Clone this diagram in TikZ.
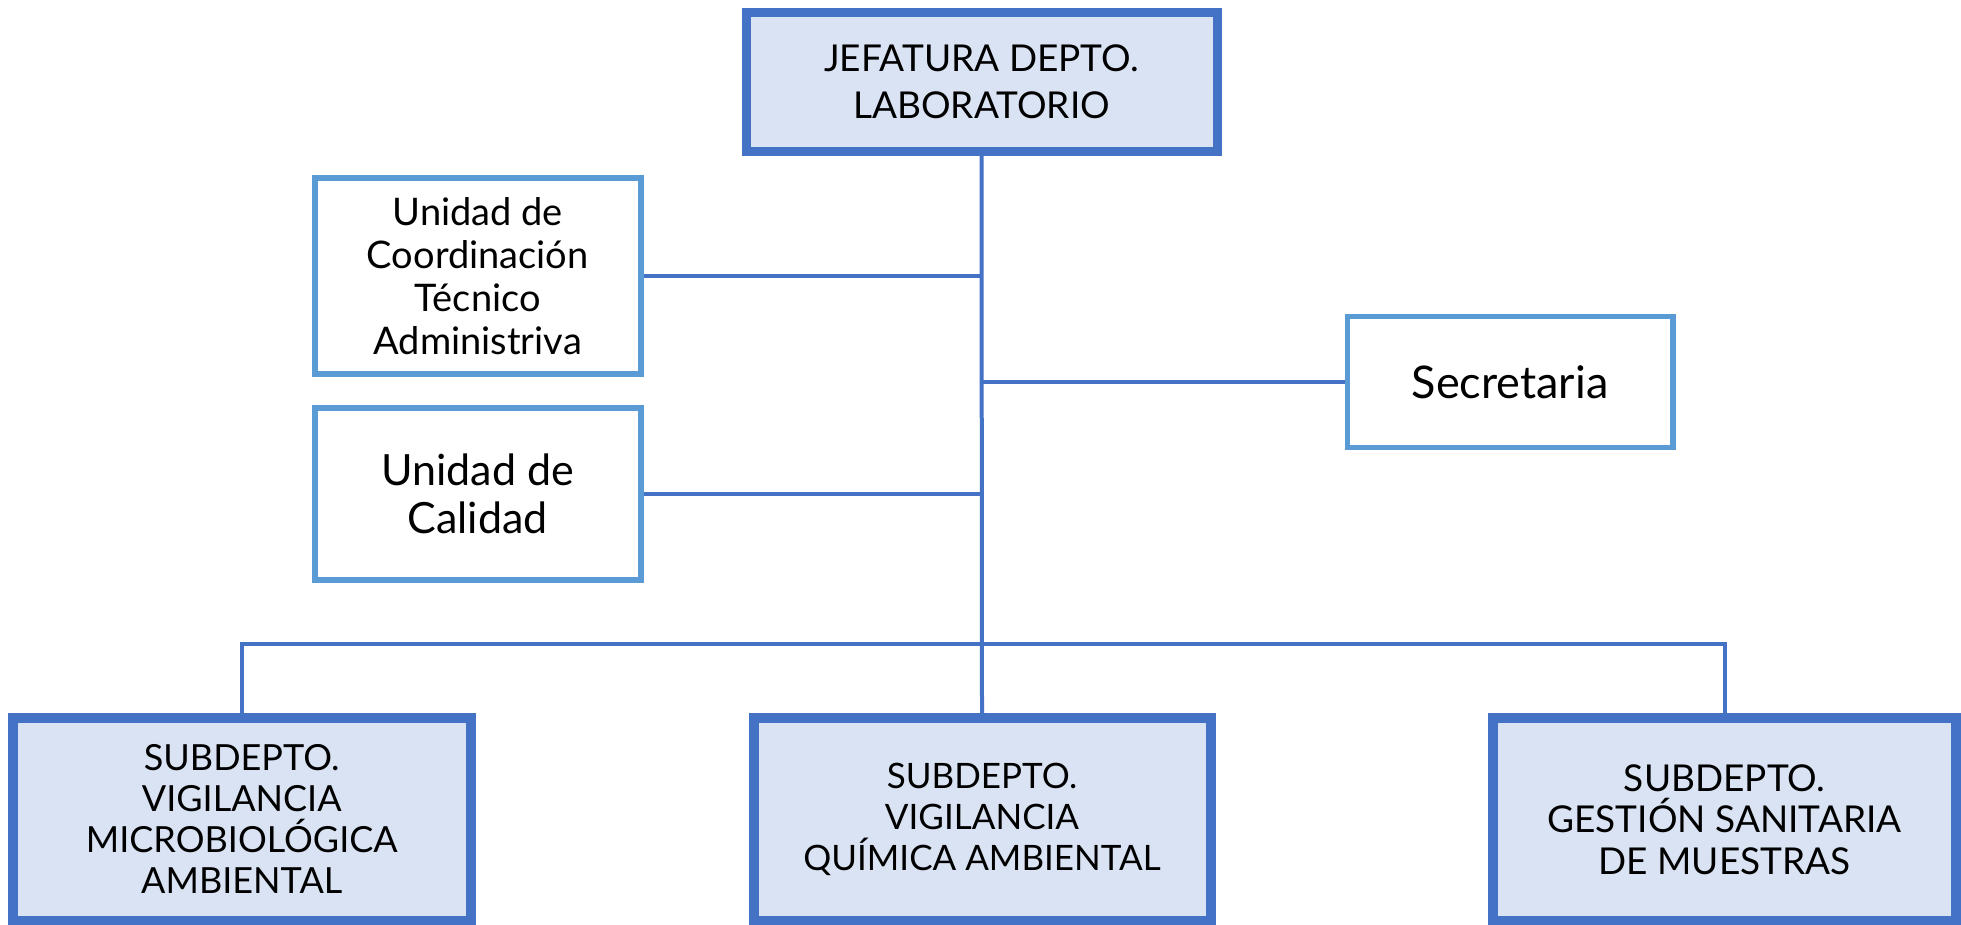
\documentclass[tikz,border=0pt]{standalone}
\usepackage{fontspec}
\setmainfont{Lato}
\definecolor{darkblue}{HTML}{4472C4}
\definecolor{lightblue}{HTML}{5B9BD5}
\definecolor{fillblue}{HTML}{DAE3F3}
\begin{document}
\begin{tikzpicture}[x=1pt,y=-1pt,
  mainbox/.style={draw=darkblue,fill=fillblue,line width=9pt,rectangle,inner sep=0pt,align=center,text=black},
  unitbox/.style={draw=lightblue,fill=white,line width=6pt,rectangle,inner sep=0pt,align=center,text=black},
  conn/.style={draw=darkblue,line width=4pt}]
\useasboundingbox (0,0) rectangle (1961,924);
\node[mainbox,minimum width=471pt,minimum height=138.5pt,font=\fontsize{37}{47}\selectfont] (top) at (981.5,82) {JEFATURA DEPTO.\\LABORATORIO};
\node[unitbox,minimum width=326.5pt,minimum height=196pt,font=\fontsize{38}{43}\selectfont] (coord) at (477.75,276) {Unidad de\\Coordinación\\Técnico\\Administriva};
\node[unitbox,minimum width=326.5pt,minimum height=171.7pt,font=\fontsize{43}{48.5}\selectfont] (cal) at (477.75,494) {Unidad de\\Calidad};
\node[unitbox,line width=5.5pt,minimum width=325.5pt,minimum height=130.8pt,font=\fontsize{45}{50}\selectfont] (sec) at (1510,382) {Secretaria};
\node[mainbox,line width=10pt,minimum width=457.5pt,minimum height=203.3pt,font=\fontsize{36}{41}\selectfont] (b1) at (241.75,819.4) {SUBDEPTO.\\VIGILANCIA\\MICROBIOLÓGICA\\AMBIENTAL};
\node[mainbox,line width=10pt,minimum width=457pt,minimum height=203.3pt,font=\fontsize{35}{41}\selectfont] (b2) at (982,819.4) {SUBDEPTO.\\VIGILANCIA\\QUÍMICA AMBIENTAL};
\node[mainbox,line width=10pt,minimum width=463pt,minimum height=203.3pt,font=\fontsize{37}{41.5}\selectfont] (b3) at (1724.5,819.4) {SUBDEPTO.\\GESTIÓN SANITARIA\\DE MUESTRAS};
\coordinate (bar) at (981.7,643.5);
\draw[conn] (top.south) -- (b2.north);
\draw[conn] (coord.east) -- (coord.east -| top.south);
\draw[conn] (cal.east) -- (cal.east -| top.south);
\draw[conn] (sec.west) -- (sec.west -| top.south);
\draw[conn] (b1.north) -- (b1.north |- bar) -- (b3.north |- bar) -- (b3.north);
\end{tikzpicture}
\end{document}
